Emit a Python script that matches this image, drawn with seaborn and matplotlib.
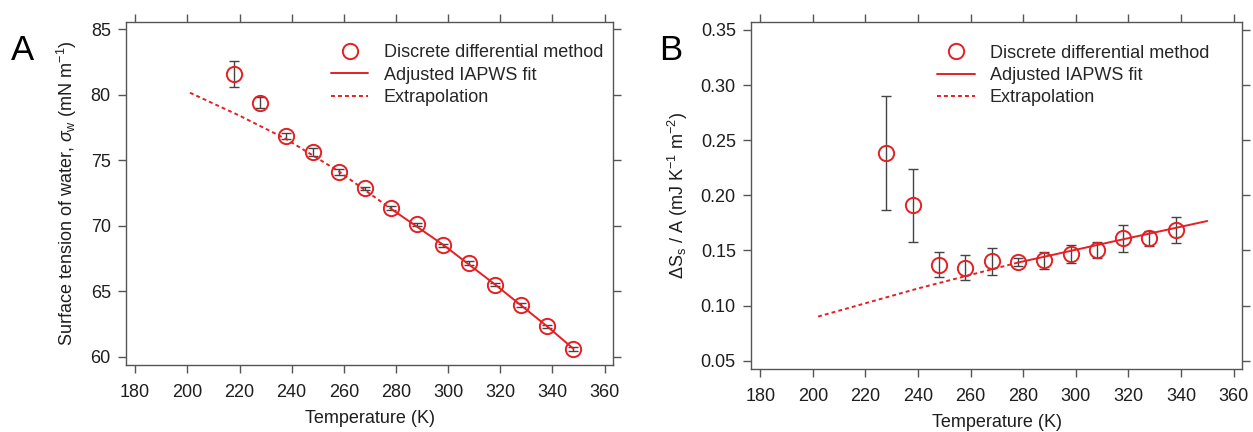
import numpy as np
import pandas as pd
import seaborn as sns
import matplotlib.pyplot as plt
from matplotlib.lines import Line2D

# ===========================================================
# Data
# ===========================================================

# Panel A : surface tension of water
temp_a = [218, 228, 238, 248, 258, 268, 278, 288, 298, 308, 318, 328, 338, 348]
sigma_a = [81.6, 79.4, 76.85, 75.6, 74.1, 72.85, 71.35, 70.1, 68.5, 67.15, 65.5, 63.95, 62.3, 60.6]
sigma_err_a = [1.0, 0.45, 0.2, 0.3, 0.2, 0.1, 0.15, 0.1, 0.1, 0.15, 0.15, 0.15, 0.1, 0.15]

fit_t_a = [278, 298, 318, 338, 348]
fit_sigma_a = [71.3, 68.55, 65.5, 62.3, 60.6]
extra_t_a = [201, 220, 238, 258, 278]
extra_sigma_a = [80.15, 78.4, 76.6, 74.15, 71.3]

# Panel B : surface excess entropy
temp_b = [228, 238, 248, 258, 268, 278, 288, 298, 308, 318, 328, 338]
ds_b = [0.2385, 0.191, 0.137, 0.1345, 0.1400, 0.1398, 0.141, 0.1465, 0.1505, 0.161, 0.161, 0.1685]
ds_err_b = [0.052, 0.033, 0.0115, 0.011, 0.012, 0.0035, 0.0075, 0.008, 0.007, 0.012, 0.007, 0.0115]

fit_t_b = [278, 314, 350]
fit_ds_b = [0.139, 0.158, 0.1767]
extra_t_b = [202, 240, 278]
extra_ds_b = [0.090, 0.1155, 0.139]

x_ticks = [180, 200, 220, 240, 260, 280, 300, 320, 340, 360]

# ===========================================================
# Style
# ===========================================================

sns.set_theme(style="ticks")
plt.rcParams['font.family'] = ['Liberation Sans', 'DejaVu Sans']
plt.rcParams['mathtext.fontset'] = 'custom'
plt.rcParams['mathtext.rm'] = 'Liberation Sans'
plt.rcParams['mathtext.it'] = 'Liberation Sans:italic'

RED = '#e51f23'
GREY = '#555555'
TXT = '#1e1e1e'

fig = plt.figure(figsize=(12.53, 4.32), dpi=100)
ax_a = fig.add_axes([0.1006, 0.155, 0.3886, 0.794])
ax_b = fig.add_axes([0.5994, 0.146, 0.3918, 0.803])


def draw_panel(ax, t, y, yerr, fit_t, fit_y, ext_t, ext_y):
    ax.errorbar(t, y, yerr=yerr, fmt='none', ecolor='#444444',
                elinewidth=1.0, capsize=3.5, capthick=1.0, zorder=2)
    sns.lineplot(x=ext_t, y=ext_y, ax=ax, color=RED, lw=1.4,
                 linestyle=(0, (2, 1.6)), zorder=3)
    sns.lineplot(x=fit_t, y=fit_y, ax=ax, color=RED, lw=1.4, zorder=3)
    sns.lineplot(x=t, y=y, ax=ax, linestyle='none', marker='o', ms=11,
                 mfc='none', mec=RED, mew=1.4, zorder=4)

    handles = [
        Line2D([], [], linestyle='none', marker='o', ms=11, mfc='none', mec=RED, mew=1.4),
        Line2D([], [], color=RED, lw=1.4),
        Line2D([], [], color=RED, lw=1.4, linestyle=(0, (2, 1.6))),
    ]
    labels = ['Discrete differential method', 'Adjusted IAPWS fit', 'Extrapolation']
    return handles, labels


def style_axes(ax):
    for side in ['left', 'right', 'top', 'bottom']:
        ax.spines[side].set_visible(True)
        ax.spines[side].set_color(GREY)
        ax.spines[side].set_linewidth(1.0)
    ax.tick_params(which='both', direction='out', length=6, width=1.0, color=GREY,
                   top=True, right=True, labeltop=False, labelright=False,
                   labelsize=13, labelcolor=TXT, pad=5)
    ax.tick_params(axis='x', pad=8)
    ax.set_xlim(176.5, 363.2)
    ax.set_xticks(x_ticks)
    ax.set_xlabel('Temperature (K)', fontsize=13, color=TXT, labelpad=6)


def add_legend(ax, h, l, x0):
    ax.legend(h, l, loc='upper left', bbox_to_anchor=(x0, 0.935), frameon=False,
              fontsize=13, handlelength=2.1, handletextpad=0.85, labelspacing=0.3,
              borderpad=0, borderaxespad=0)


# Panel A
h, l = draw_panel(ax_a, temp_a, sigma_a, sigma_err_a,
                  fit_t_a, fit_sigma_a, extra_t_a, extra_sigma_a)
style_axes(ax_a)
ax_a.set_ylim(59.35, 85.55)
ax_a.set_yticks([60, 65, 70, 75, 80, 85])
ax_a.set_ylabel(r'Surface tension of water, $\sigma_\mathregular{w}$ (mN m$^\mathregular{-1}$)',
                fontsize=13, color=TXT, labelpad=8)
add_legend(ax_a, h, l, 0.42)
fig.text(0.009, 0.861, 'A', fontsize=25, color='black')

# Panel B
h, l = draw_panel(ax_b, temp_b, ds_b, ds_err_b,
                  fit_t_b, fit_ds_b, extra_t_b, extra_ds_b)
style_axes(ax_b)
ax_b.set_ylim(0.0425, 0.3572)
ax_b.set_yticks([0.05, 0.10, 0.15, 0.20, 0.25, 0.30, 0.35])
ax_b.set_yticklabels(['0.05', '0.10', '0.15', '0.20', '0.25', '0.30', '0.35'])
ax_b.set_ylabel(r'$\Delta$S$_\mathregular{s}$ / A (mJ K$^\mathregular{-1}$ m$^\mathregular{-2}$)',
                fontsize=13, color=TXT, labelpad=8)
add_legend(ax_b, h, l, 0.378)
fig.text(0.526, 0.861, 'B', fontsize=25, color='black')

plt.savefig('out.png', dpi=100)
